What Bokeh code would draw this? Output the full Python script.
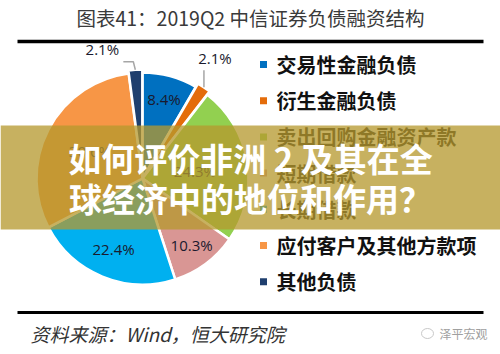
import math
from bokeh.plotting import figure
from bokeh.models import Range1d, ColumnDataSource
from bokeh.core.properties import value
from bokeh.embed import file_html
from bokeh.resources import INLINE

# ---- data ----
categories = ["交易性金融负债", "衍生金融负债", "卖出回购金融资产款", "短期借款",
              "长期借款", "应付客户及其他方款项", "其他负债"]
shares = [8.4, 2.1, 24.3, 10.3, 22.4, 30.6, 2.1]
share_labels = ["8.4%", "2.1%", "24.3%", "10.3%", "22.4%", "30.6%", "2.1%"]
colors = ["#0070C0", "#E46C0A", "#92D050", "#D99694", "#00B0F0", "#F79646", "#1F3F6E"]
title_text = "图表41：2019Q2 中信证券负债融资结构"
banner_lines = ["如何评价非洲 2 及其在全", "球经济中的地位和作用？"]
source_text = "资料来源：Wind，恒大研究院"
mark_text = "泽平宏观"

W, H = 500, 354
p = figure(width=W, height=H, output_backend="svg", toolbar_location=None,
           x_range=Range1d(0, W), y_range=Range1d(0, H),
           x_axis_location=None, y_axis_location=None, min_border=0)
p.grid.visible = False
p.outline_line_color = None
p.background_fill_color = "white"
p.border_fill_color = "white"

def Y(py):
    return H - py

# ---- title and rules ----
p.text(x=[250], y=[Y(17)], text=[title_text], text_font=value("Noto Sans CJK SC"),
       text_font_size="19.5px", text_color="#3a3a3a", text_align="center", text_baseline="middle")
p.segment(x0=[17], y0=[Y(41)], x1=[483], y1=[Y(41)], line_color="black", line_width=3.5)
p.segment(x0=[17], y0=[Y(312)], x1=[483], y1=[Y(312)], line_color="black", line_width=3)

# ---- pie ----
cx, cy, R = 142, Y(178), 106
explode = [0, 4, 0, 0, 0, 0, 3]
label_r = [0.78, 0, 0.5, 0.78, 0.72, 0.56, 0]
total = sum(shares)
starts, ends, mids, xs, ys = [], [], [], [], []
cum = 0.0
for s, e in zip(shares, explode):
    a0 = math.pi / 2 - 2 * math.pi * cum / total
    cum += s
    a1 = math.pi / 2 - 2 * math.pi * cum / total
    m = (a0 + a1) / 2
    starts.append(a0); ends.append(a1); mids.append(m)
    xs.append(cx + e * math.cos(m)); ys.append(cy + e * math.sin(m))

src = ColumnDataSource(dict(x=xs, y=ys, start=starts, end=ends, color=colors))
p.wedge(x="x", y="y", radius=R, start_angle="start", end_angle="end", direction="clock",
        fill_color="color", line_color="white", line_width=2.5, source=src)

lx, ly, lt = [], [], []
for i, (m, r) in enumerate(zip(mids, label_r)):
    if r > 0:
        lx.append(cx + r * R * math.cos(m)); ly.append(cy + r * R * math.sin(m)); lt.append(share_labels[i])
p.text(x=lx, y=ly, text=lt, text_font=value("Open Sans"), text_font_size="15px",
       text_color="#1a1a2e", text_align="center", text_baseline="middle")

# outside labels with leader lines (small slices)
i = 1
px_ = xs[i] + R * math.cos(mids[i]); py_ = ys[i] + R * math.sin(mids[i])
p.line(x=[px_, px_], y=[py_, py_ + 17], line_color="#a6a6a6", line_width=1.5)
p.text(x=[px_ + 11], y=[py_ + 29], text=[share_labels[i]], text_font=value("Open Sans"),
       text_font_size="15px", text_color="#1a1a2e", text_align="center", text_baseline="middle")
i = 6
px_ = xs[i] + R * math.cos(mids[i]); py_ = ys[i] + R * math.sin(mids[i])
p.line(x=[px_, px_ - 2, px_ - 12], y=[py_, py_ + 8, py_ + 8], line_color="#a6a6a6", line_width=1.5)
p.text(x=[px_ - 33], y=[py_ + 21], text=[share_labels[i]], text_font=value("Open Sans"),
       text_font_size="15px", text_color="#1a1a2e", text_align="center", text_baseline="middle")

# ---- legend ----
leg_y = [Y(64 + 36.2 * k) for k in range(len(categories))]
p.rect(x=[263] * len(categories), y=leg_y, width=7, height=7, fill_color=colors, line_color=None)
p.text(x=[276] * len(categories), y=leg_y, text=categories, text_font=value("Noto Sans CJK SC"),
       text_font_size="20px", text_font_style="bold", text_color="#111111",
       text_align="left", text_baseline="middle")

# ---- overlay banner ----
p.quad(left=[0], right=[W], top=[Y(125)], bottom=[Y(229)], fill_color="#B6982E",
       fill_alpha=0.76, line_color=None)
p.text(x=[250, 250], y=[Y(157), Y(197)], text=banner_lines, text_font=value("Noto Sans CJK SC"),
       text_font_size="33px", text_font_style="bold", text_color="white",
       text_align="center", text_baseline="middle")

# ---- source and watermark ----
p.text(x=[30], y=[Y(333)], text=[source_text], text_font=value("Noto Sans CJK SC"),
       text_font_size="19px", text_font_style="italic", text_color="#333333",
       text_align="left", text_baseline="middle")
p.ellipse(x=[427], y=[Y(333)], width=12, height=10, fill_color=None, line_color="#c8c8c8", line_width=1)
p.text(x=[463], y=[Y(333)], text=[mark_text], text_font=value("Noto Sans CJK SC"),
       text_font_size="12px", text_color="#a0a0a0", text_align="center", text_baseline="middle")

open("out.html", "w").write(file_html(p, INLINE))
